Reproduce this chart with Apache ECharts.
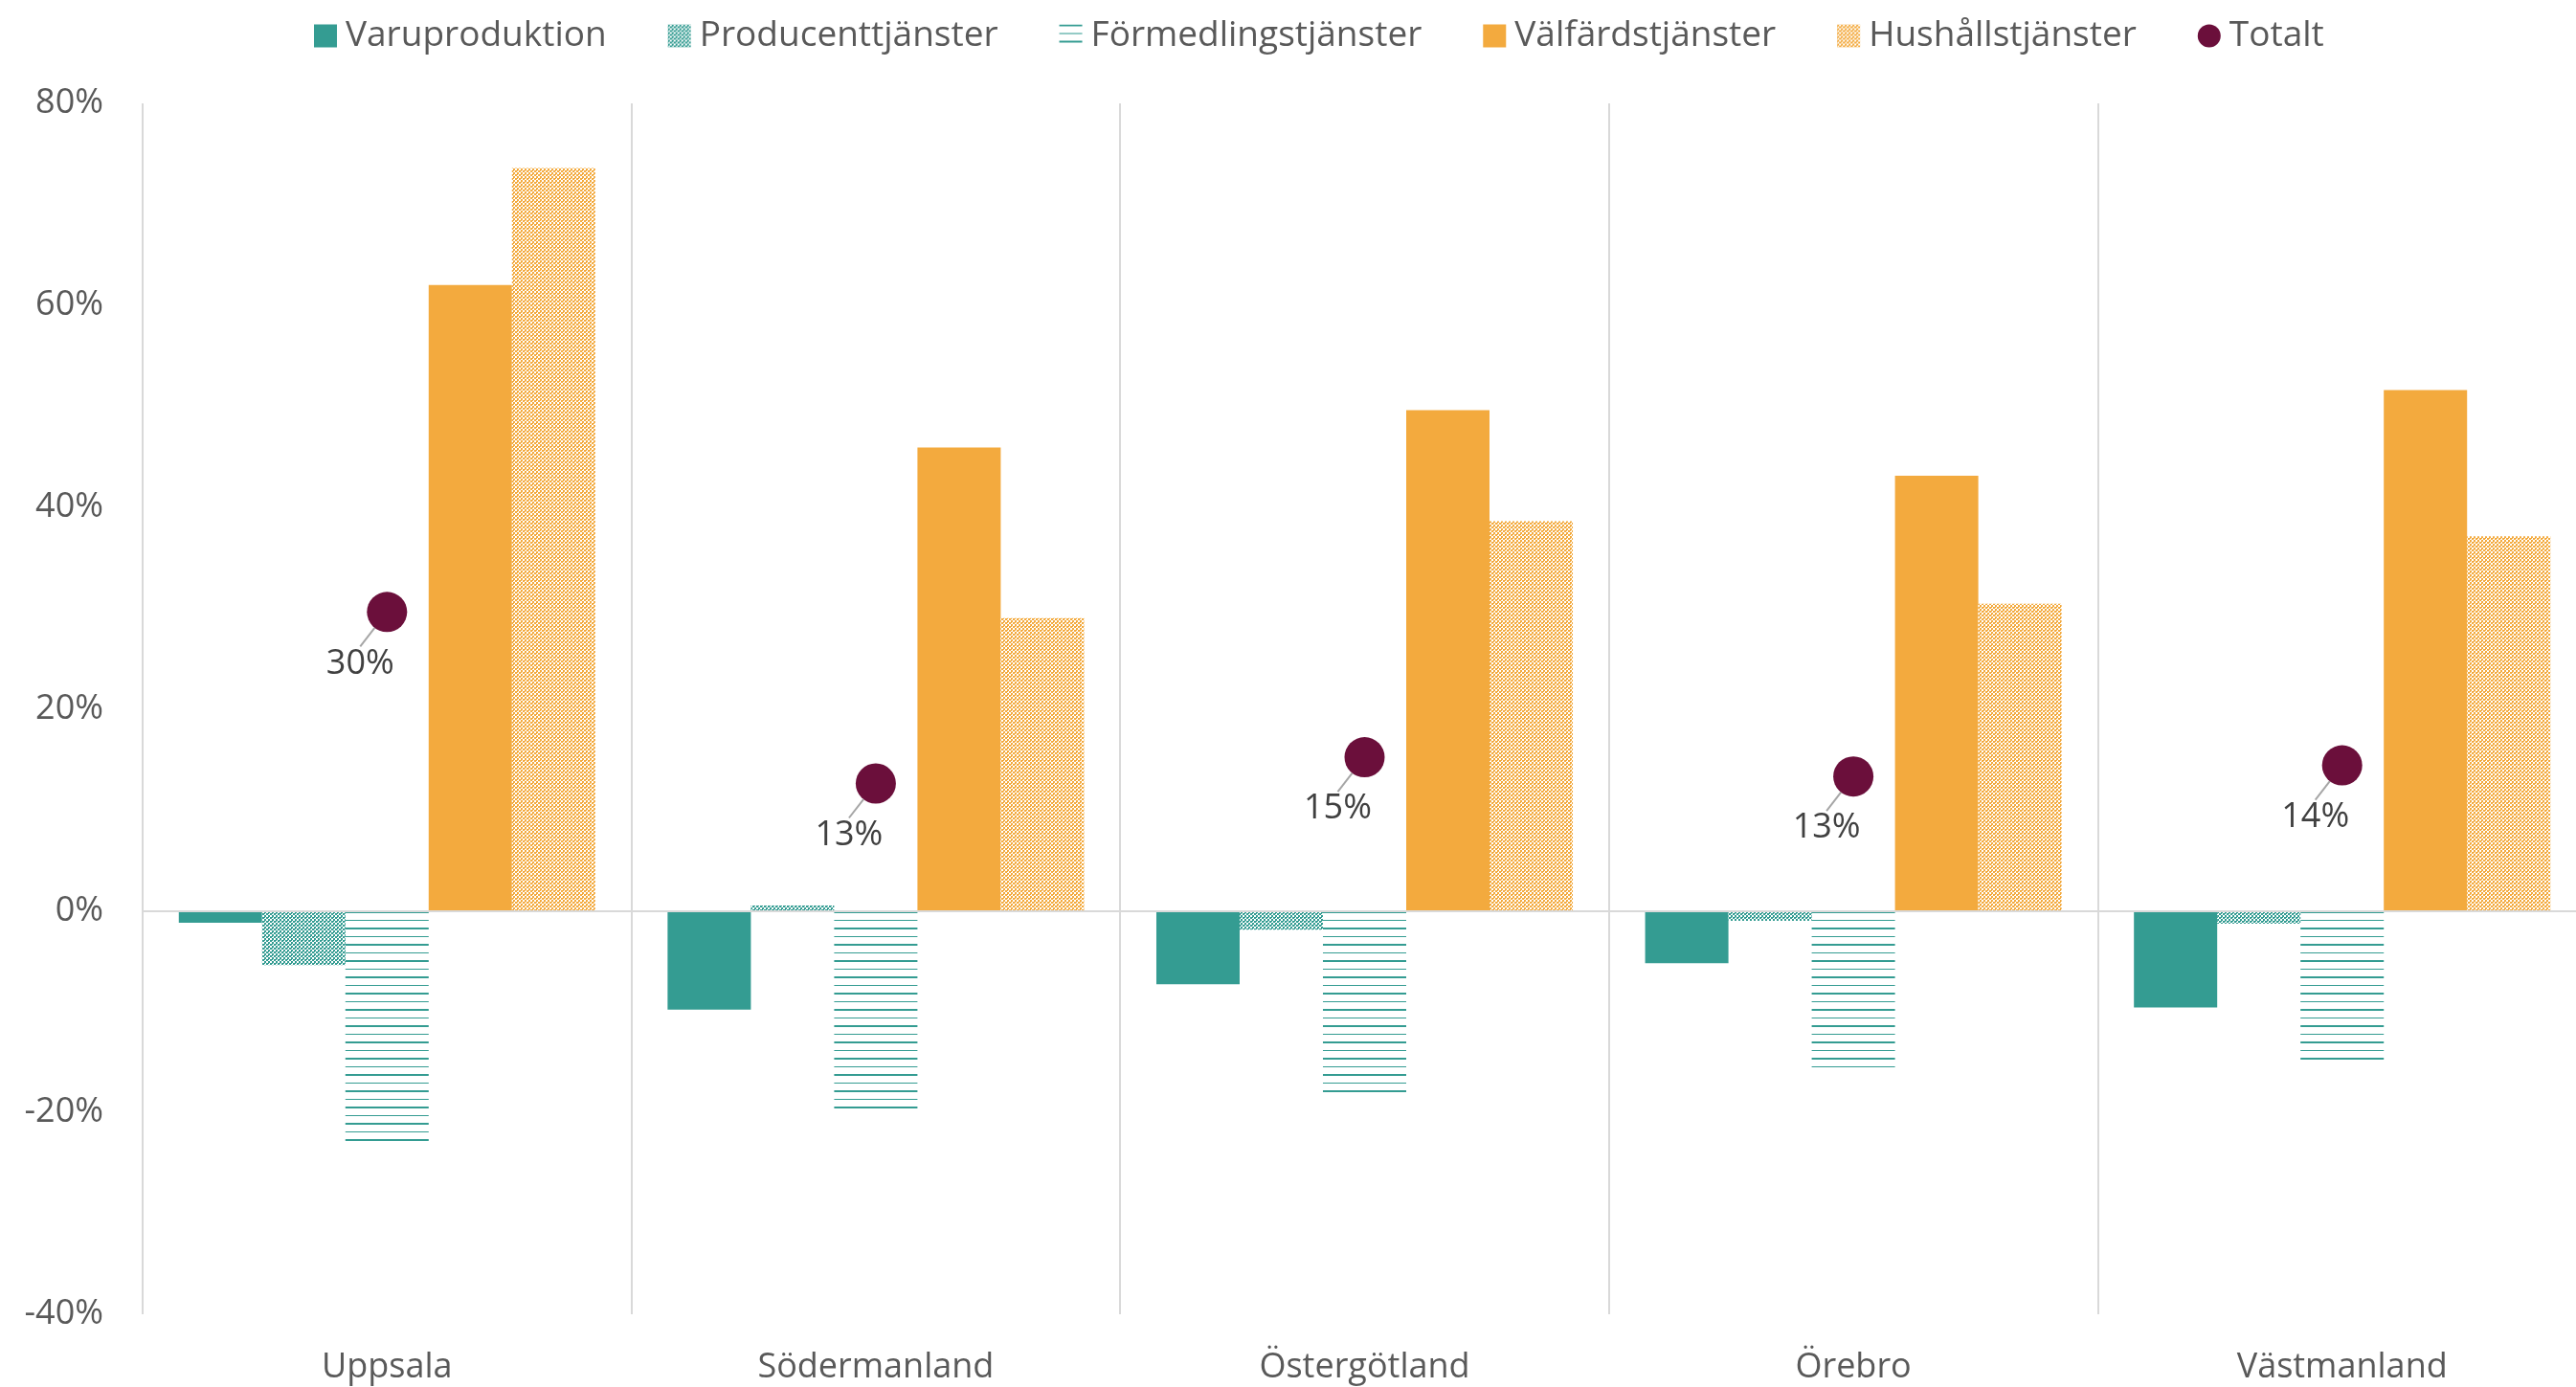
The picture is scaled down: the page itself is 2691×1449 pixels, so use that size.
<!DOCTYPE html>
<html>
<head>
<meta charset="utf-8">
<script src="https://cdn.jsdelivr.net/npm/echarts@6/dist/echarts.min.js"></script>
<style>
html,body{margin:0;padding:0;background:#fff;overflow:hidden;}
#chart{width:2710px;height:1449px;}
</style>
</head>
<body>
<div id="chart"></div>
<script>
var regions = ['Uppsala', 'Södermanland', 'Östergötland', 'Örebro', 'Västmanland'];
var seriesNames = ['Varuproduktion', 'Producenttjänster', 'Förmedlingstjänster', 'Välfärdstjänster', 'Hushållstjänster', 'Totalt'];
var varuproduktion = [-1.2, -9.8, -7.3, -5.2, -9.6];
var producenttjanster = [-5.4, 0.5, -1.9, -1.0, -1.3];
var formedlingstjanster = [-22.9, -20.1, -18.5, -16.1, -15.3];
var valfardstjanster = [62.0, 45.9, 49.6, 43.1, 51.6];
var hushallstjanster = [73.6, 29.0, 38.6, 30.4, 37.1];
var totalt = [29.6, 12.6, 15.2, 13.3, 14.4];

var TEAL = '#349C92';
var ORANGE = '#F3AA3E';
var WINE = '#6B0F3B';
var FONT = 'Open Sans';

// checker pattern (Producent/Hushåll)
function checker(col){
	var c = document.createElement('canvas');
	c.width = 4; c.height = 4;
	var ctx = c.getContext('2d');
	ctx.fillStyle = '#fff';
	ctx.fillRect(0, 0, 4, 4);
	ctx.fillStyle = col;
	ctx.fillRect(0, 0, 2, 2);
	ctx.fillRect(2, 2, 2, 2);
	ctx.fillRect(0, 2, 1, 1);
	return {image: c, repeat: 'repeat'};
}
// horizontal stripes, thick + thin (Förmedling)
function stripes(col){
	var c = document.createElement('canvas');
	c.width = 8; c.height = 17;
	var ctx = c.getContext('2d');
	ctx.fillStyle = col;
	ctx.fillRect(0, 0, 8, 2);
	ctx.fillRect(0, 9, 8, 1);
	return {image: c, repeat: 'repeat'};
}

function bar(name, data, color){
	return {
		name: name,
		type: 'bar',
		data: data,
		barGap: '0%',
		barCategoryGap: '14.8%',
		itemStyle: {color: color},
		emphasis: {disabled: true}
	};
}

var chart = echarts.init(document.getElementById('chart'));
var series = [
	bar(seriesNames[0], varuproduktion, TEAL),
	bar(seriesNames[1], producenttjanster, checker(TEAL)),
	bar(seriesNames[2], formedlingstjanster, stripes(TEAL)),
	bar(seriesNames[3], valfardstjanster, ORANGE),
	bar(seriesNames[4], hushallstjanster, checker(ORANGE)),
	{
		name: seriesNames[5],
		type: 'scatter',
		data: totalt,
		symbolSize: 42,
		itemStyle: {color: WINE, opacity: 1},
		z: 5,
		label: {
			show: true,
			position: 'inside',
			formatter: function(p){ return Math.round(p.value) + '%'; },
			color: '#404040',
			fontSize: 36,
			fontFamily: FONT
		},
		labelLayout: {dx: -28, dy: 54},
		labelLine: {show: true, lineStyle: {color: '#A6A6A6', width: 2}}
	}
];
series[0].markLine = {
	silent: true,
	symbol: 'none',
	label: {show: false},
	lineStyle: {color: '#D9D9D9', width: 2, type: 'solid'},
	data: [{yAxis: 0}]
};

var option = {
	backgroundColor: '#fff',
	animation: false,
	textStyle: {fontFamily: FONT},
	legend: {
		top: 14,
		left: 323,
		itemWidth: 24,
		itemHeight: 24,
		itemGap: 64,
		textStyle: {fontSize: 37, color: '#595959', fontFamily: FONT, padding: [0, 0, 0, 4]},
		data: [
			{name: seriesNames[0], icon: 'rect'},
			{name: seriesNames[1], icon: 'rect'},
			{name: seriesNames[2], icon: 'rect'},
			{name: seriesNames[3], icon: 'rect'},
			{name: seriesNames[4], icon: 'rect'},
			{name: seriesNames[5], icon: 'circle'}
		]
	},
	grid: {left: 149, top: 108, width: 2553, height: 1265},
	xAxis: {
		type: 'category',
		data: regions,
		axisLine: {show: false},
		axisTick: {show: false},
		splitLine: {show: true, lineStyle: {color: '#D9D9D9', width: 2}},
		axisLabel: {fontSize: 36, color: '#595959', margin: 38, fontFamily: FONT}
	},
	yAxis: {
		type: 'value',
		min: -40,
		max: 80,
		interval: 20,
		axisLine: {show: false},
		axisTick: {show: false},
		splitLine: {show: false},
		axisLabel: {fontSize: 36, color: '#595959', margin: 41, formatter: '{value}%', fontFamily: FONT}
	},
	series: series
};
chart.setOption(option);
</script>
</body>
</html>
